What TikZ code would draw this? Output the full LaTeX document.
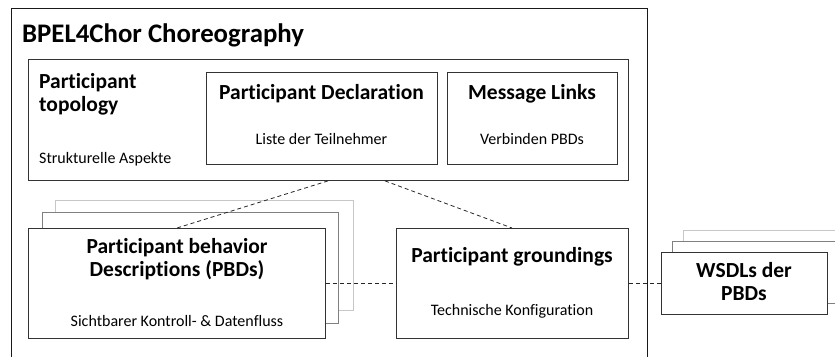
\documentclass[tikz,border=0pt]{standalone}
\usepackage{fontspec}
\setmainfont[Ligatures=NoCommon]{Carlito}
\tikzset{
  box/.style={draw=black!80, line width=0.9pt, fill=white, anchor=north west, inner sep=0pt},
  back1/.style={draw=black!50, line width=0.9pt, fill=white, anchor=north west, inner sep=0pt},
  back2/.style={draw=black!22, line width=0.9pt, fill=white, anchor=north west, inner sep=0pt},
  big/.style={font=\bfseries\fontsize{26.8}{30}\selectfont, inner sep=0pt},
  mid/.style={font=\bfseries\fontsize{21.5}{23}\selectfont, inner sep=0pt, align=center},
  small/.style={font=\fontsize{16}{18}\selectfont, inner sep=0pt},
  link/.style={draw=black!85, line width=0.8pt, dash pattern=on 4pt off 3pt}
}
\begin{document}
\begin{tikzpicture}[x=1pt,y=-1pt]
\useasboundingbox (0,0) rectangle (835,356);
% outer choreography frame (open at the bottom edge)
\draw[line width=0.9pt, black!90] (11,362) -- (11,8) -- (647,8) -- (647,362);
\node[big, anchor=base west] (title) at (22,42) {BPEL4Chor Choreography};

% participant topology
\node[box, minimum width=600pt, minimum height=121pt] (topo) at (28,59) {};
\node[mid, anchor=base west, align=left] (topot) at (39,111) {Participant\\topology};
\node[small, anchor=base west] (topos) at (39,163) {Strukturelle Aspekte};

\node[box, minimum width=231pt, minimum height=92pt] (decl) at (206,72) {};
\node[mid, anchor=base] (declt) at (321.5,99.5) {Participant Declaration};
\node[small, anchor=base] (decls) at (321.5,144) {Liste der Teilnehmer};

\node[box, minimum width=170pt, minimum height=92pt] (msg) at (447,72) {};
\node[mid, anchor=base] (msgt) at (532,99.5) {Message Links};
\node[small, anchor=base] (msgs) at (532,144) {Verbinden PBDs};

% PBDs stack
\node[back2, minimum width=298pt, minimum height=110pt] (pbd3) at (55,200) {};
\node[back1, minimum width=296pt, minimum height=111pt] (pbd2) at (42,212) {};
\node[box, minimum width=297pt, minimum height=110pt] (pbd) at (28,228) {};
\node[mid, anchor=base] (pbdt) at (177,276.5) {Participant behavior\\Descriptions (PBDs)};
\node[small, anchor=base] (pbds) at (177,326.5) {Sichtbarer Kontroll- \& Datenfluss};

% groundings
\node[box, minimum width=232pt, minimum height=110pt] (grd) at (396,228) {};
\node[mid, anchor=base] (grdt) at (512,262) {Participant groundings};
\node[small, anchor=base] (grds) at (512,315) {Technische Konfiguration};

% WSDL stack
\node[back2, minimum width=200pt, minimum height=62pt] (w3) at (683,230) {};
\node[back1, minimum width=200pt, minimum height=62pt] (w2) at (672,241) {};
\node[box, minimum width=166pt, minimum height=62pt] (wsdl) at (661,252) {};
\node[mid, anchor=base] (wsdlt) at (744,300) {WSDLs der\\PBDs};

% dashed connectors
\draw[link] ([xshift=300pt]topo.south west) -- ([xshift=149pt]pbd.north west);
\draw[link] ([xshift=357pt]topo.south west) -- ([xshift=116pt]grd.north west);
\draw[link] ([yshift=-55pt]pbd.north east) -- ([yshift=-55pt]grd.north west);
\draw[link] ([yshift=-55pt]grd.north east) -- ([yshift=-31pt]wsdl.north west);
\end{tikzpicture}
\end{document}
